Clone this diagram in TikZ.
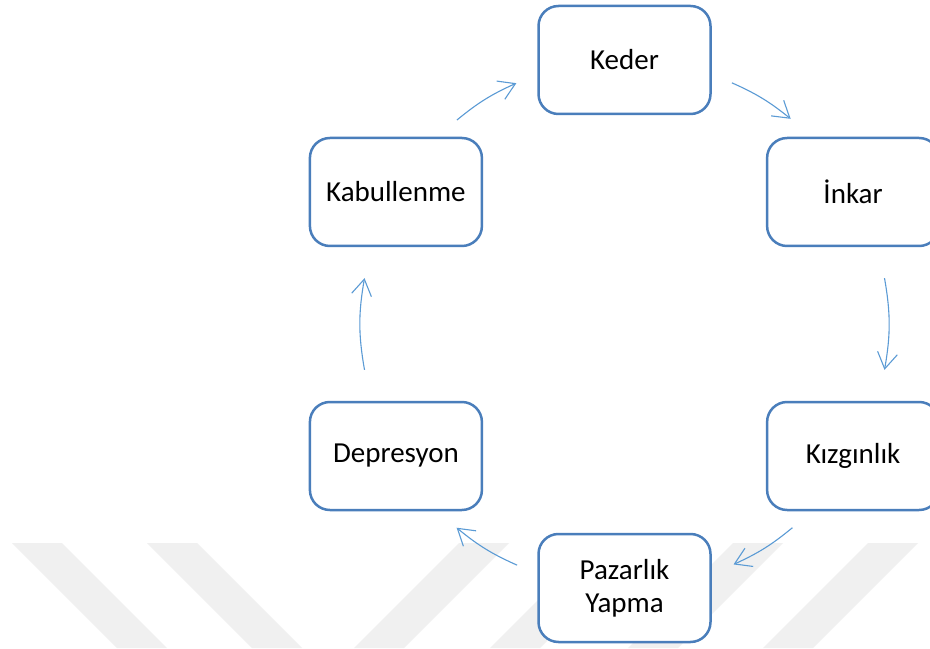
\documentclass[tikz,border=0pt]{standalone}
\usepackage{fontspec}
\setmainfont{Carlito}
\usepackage{tikz}
\usetikzlibrary{arrows.meta}
\definecolor{stageblue}{RGB}{74,126,187}
\definecolor{flowblue}{RGB}{91,155,213}
\definecolor{markgray}{RGB}{240,240,240}

\begin{document}
\begin{tikzpicture}[x=0.5pt, y=0.5pt,
  font=\fontsize{14.5pt}{16.5pt}\selectfont,
  stage/.style={draw=stageblue, line width=1.25pt, fill=white,
                rounded corners=10pt, align=center,
                minimum width=86pt, minimum height=54pt},
  flow/.style={draw=flowblue, line width=0.55pt,
               -{Straight Barb[length=8pt, width=10pt]}},
  stripe/.style={fill=markgray, draw=none}]

  \useasboundingbox[fill=white] (0,0) rectangle (930,648);

  % faint watermark bands along the bottom
  \foreach \x in {12,147}
    \path[stripe] (\x,105) -- (\x+50,105) -- (\x+155,0) -- (\x+105,0) -- cycle;
  \foreach \x in {459,595,733,868}
    \path[stripe] (\x,105) -- (\x+50,105) -- (\x-55,0) -- (\x-105,0) -- cycle;

  \coordinate (c) at (624.5,324);

  \node[stage] (keder)     at (624.5,588) {Keder};
  \node[stage] (inkar)     at (853.1,456) {İnkar};
  \node[stage] (kizgin)    at (853.1,192) {Kızgınlık};
  \node[stage] (pazarlik)  at (624.5,60)  {Pazarlık\\ Yapma};
  \node[stage] (depresyon) at (395.9,192) {Depresyon};
  \node[stage] (kabul)     at (395.9,456) {Kabullenme};

  % arrow ends sit on the circle through the stage centres
  \foreach \from/\to/\s/\e in {keder/inkar/66/51, inkar/kizgin/10/-10,
      kizgin/pazarlik/-50.5/-65.6, pazarlik/depresyon/-114/-129.5,
      depresyon/kabul/-170/-190, kabul/keder/129.4/114.2}
    \path (c) ++(\s:264) coordinate (\from-out)
          (c) ++(\e:264) coordinate (\to-in);

  \draw[flow] (keder-out) to[bend left=7.5] (inkar-in);
  \draw[flow] (inkar-out) to[bend left=10] (kizgin-in);
  \draw[flow] (kizgin-out) to[bend left=7.5] (pazarlik-in);
  \draw[flow] (pazarlik-out) to[bend left=7.75] (depresyon-in);
  \draw[flow] (depresyon-out) to[bend left=10] (kabul-in);
  \draw[flow] (kabul-out) to[bend left=7.6] (keder-in);
\end{tikzpicture}
\end{document}
